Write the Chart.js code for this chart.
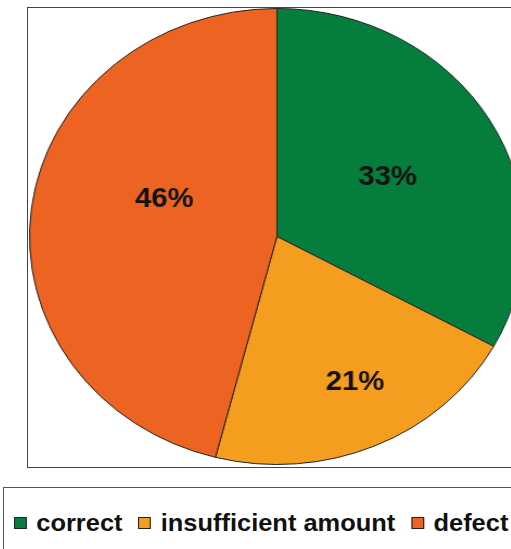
<!DOCTYPE html>
<html>
<head>
<meta charset="utf-8">
<script src="https://cdn.jsdelivr.net/npm/chart.js@4/dist/chart.umd.min.js"></script>
<style>
  html, body { margin: 0; padding: 0; background: #fff; overflow: hidden; }
  body { width: 511px; height: 549px; position: relative; font-family: "Liberation Sans", Arial, sans-serif; }
  #plotBox { position: absolute; left: 27px; top: 7px; width: 520px; height: 461px; border: 1px solid #444; box-sizing: border-box; }
  #pieWrap { position: absolute; left: 29px; top: 8px; width: 457px; height: 457px; transform: scaleX(1.085); transform-origin: 0 0; }
  #legendBox { position: absolute; left: 3px; top: 487px; width: 560px; height: 100px; border: 1px solid #555; box-sizing: border-box; }
  #legend { position: absolute; left: 14px; top: 509px; display: flex; align-items: center; white-space: nowrap;
            transform: scaleX(1.06); transform-origin: 0 0; font-weight: bold; font-size: 24px; color: #111; line-height: 28px; }
  #legend .item { display: flex; align-items: center; margin-right: 15px; }
  #legend .sw { width: 12px; height: 12px; border: 1px solid #222; box-sizing: border-box; margin-right: 9px; }
</style>
</head>
<body>
<div id="plotBox"></div>
<div id="pieWrap"><canvas id="pie" width="457" height="457"></canvas></div>
<div id="legendBox"></div>
<div id="legend"></div>
<script>
  // values
  const categories = ["correct", "insufficient amount", "defect"];
  const shares = [33, 21, 46];
  const sliceColors = ["#057E3D", "#F49D1F", "#EC6322"];

  // where each % label sits inside its slice (fraction of radius, angle nudge in degrees)
  const labelRadius = [0.52, 0.71, 0.485];
  const labelNudge = [0, -3, 13];

  const sliceLabels = {
    id: "sliceLabels",
    afterDatasetsDraw(chart) {
      const ctx = chart.ctx;
      const meta = chart.getDatasetMeta(0);
      const data = chart.data.datasets[0].data;
      ctx.save();
      ctx.font = "bold 27px 'Liberation Sans', Arial, sans-serif";
      ctx.fillStyle = "#111";
      ctx.textAlign = "center";
      ctx.textBaseline = "middle";
      meta.data.forEach((arc, i) => {
        const p = arc.getProps(["x", "y", "startAngle", "endAngle", "outerRadius"], true);
        const a = (p.startAngle + p.endAngle) / 2 + labelNudge[i] * Math.PI / 180;
        const r = p.outerRadius * labelRadius[i];
        ctx.fillText(data[i] + "%", p.x + Math.cos(a) * r, p.y + Math.sin(a) * r + 1);
      });
      ctx.restore();
    }
  };

  const chart = new Chart(document.getElementById("pie"), {
    type: "pie",
    data: {
      labels: categories,
      datasets: [{
        data: shares,
        backgroundColor: sliceColors,
        borderColor: "#222",
        borderWidth: 1
      }]
    },
    options: {
      responsive: false,
      animation: false,
      layout: { padding: 0 },
      plugins: {
        legend: { display: false },
        tooltip: { enabled: false }
      }
    },
    plugins: [sliceLabels]
  });

  // legend built from the chart's own labels and colours
  const legendEl = document.getElementById("legend");
  chart.data.labels.forEach((name, i) => {
    const item = document.createElement("div");
    item.className = "item";
    const sw = document.createElement("span");
    sw.className = "sw";
    sw.style.background = chart.data.datasets[0].backgroundColor[i];
    const txt = document.createElement("span");
    txt.textContent = name;
    item.appendChild(sw);
    item.appendChild(txt);
    legendEl.appendChild(item);
  });
</script>
</body>
</html>
